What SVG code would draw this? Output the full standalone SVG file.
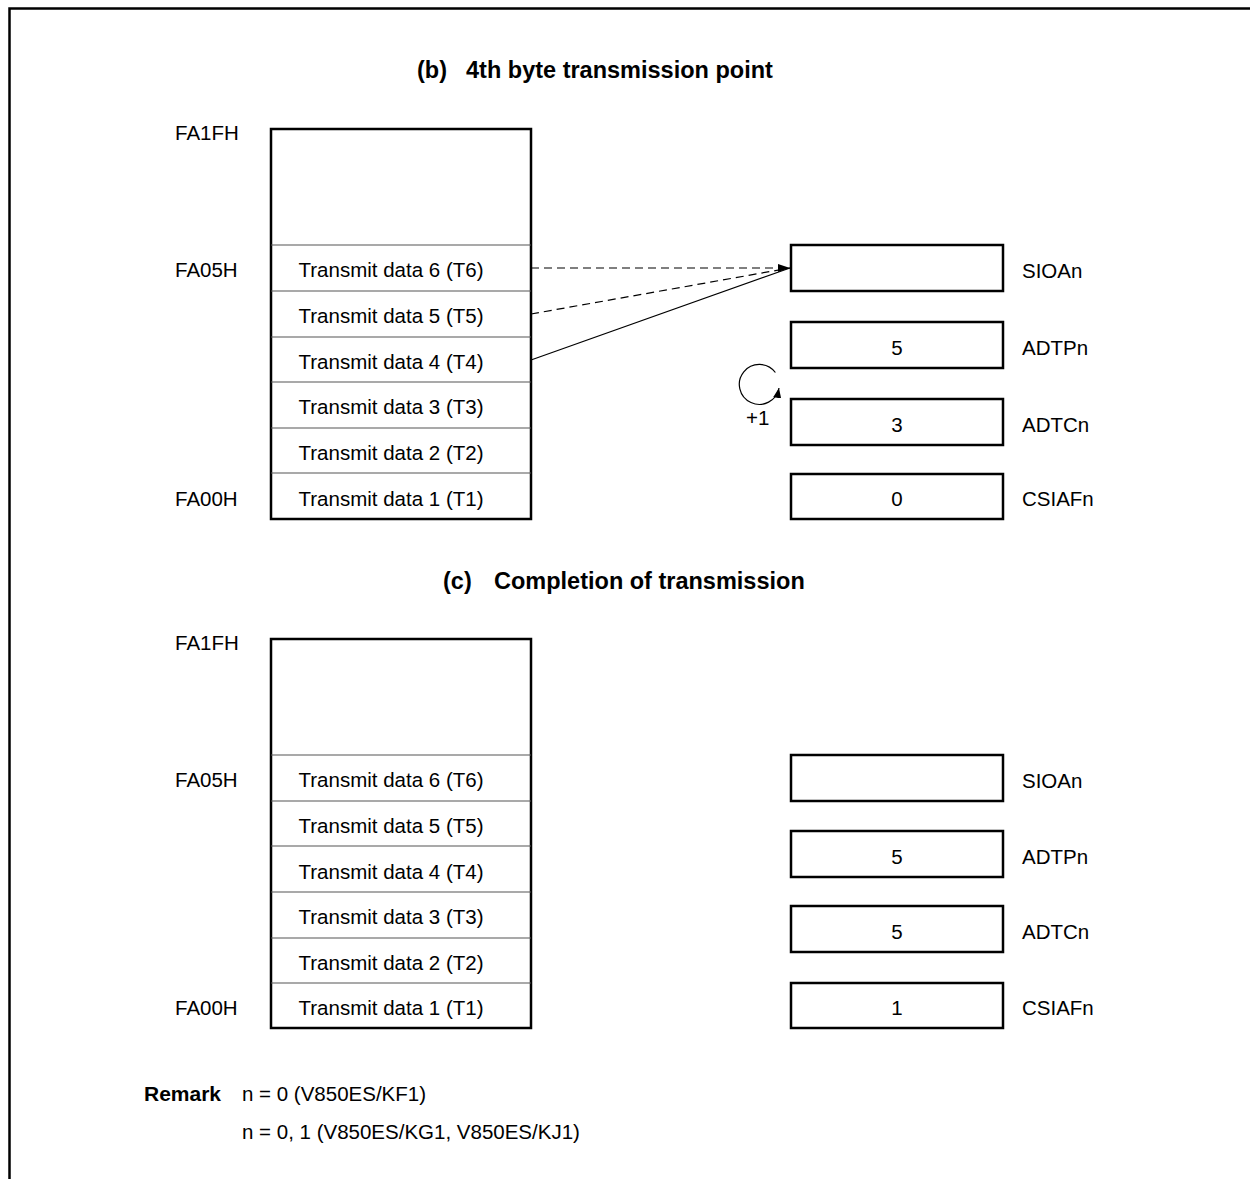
<svg xmlns="http://www.w3.org/2000/svg" width="1250" height="1179" viewBox="0 0 1250 1179">
<style>
text{font-family:"Liberation Sans",Arial,sans-serif;font-size:20.5px;fill:#000}
.t{font-weight:bold;font-size:23.5px}
.c{text-anchor:middle}
.box{fill:#fff;stroke:#000;stroke-width:2.5}
.div{stroke:#555;stroke-width:1.2}
.reg{fill:#fff;stroke:#000;stroke-width:2.5}
</style>
<defs>
<marker id="ah" markerWidth="12" markerHeight="8" refX="12" refY="4" orient="auto" markerUnits="userSpaceOnUse">
<path d="M0,0 L12,4 L0,8 Z" fill="#000"/>
</marker>
<marker id="ah2" markerWidth="10" markerHeight="8" refX="10" refY="4" orient="auto" markerUnits="userSpaceOnUse">
<path d="M0,0 L10,4 L0,8 Z" fill="#000"/>
</marker>
</defs>
<path d="M1250,8.5 H9.5 V1179" fill="none" stroke="#000" stroke-width="2.5"/>

<text class="t" x="417" y="78">(b)</text>
<text class="t" x="466" y="78">4th byte transmission point</text>
<g id="memB">
<rect class="box" x="271" y="129" width="260" height="390"/>
<line class="div" x1="271" y1="245" x2="531" y2="245"/>
<line class="div" x1="271" y1="291" x2="531" y2="291"/>
<line class="div" x1="271" y1="337" x2="531" y2="337"/>
<line class="div" x1="271" y1="382" x2="531" y2="382"/>
<line class="div" x1="271" y1="428" x2="531" y2="428"/>
<line class="div" x1="271" y1="473" x2="531" y2="473"/>
<text class="c" x="391" y="277">Transmit data 6 (T6)</text>
<text class="c" x="391" y="323">Transmit data 5 (T5)</text>
<text class="c" x="391" y="369">Transmit data 4 (T4)</text>
<text class="c" x="391" y="414">Transmit data 3 (T3)</text>
<text class="c" x="391" y="460">Transmit data 2 (T2)</text>
<text class="c" x="391" y="506">Transmit data 1 (T1)</text>
<text x="175" y="140">FA1FH</text>
<text x="175" y="277">FA05H</text>
<text x="175" y="506">FA00H</text>
</g>
<g id="regsB">
<rect class="reg" x="791" y="245" width="212" height="46"/>
<text x="1022" y="278">SIOAn</text>
<rect class="reg" x="791" y="322" width="212" height="46"/>
<text class="c" x="897" y="355">5</text>
<text x="1022" y="355">ADTPn</text>
<rect class="reg" x="791" y="399" width="212" height="46"/>
<text class="c" x="897" y="432">3</text>
<text x="1022" y="432">ADTCn</text>
<rect class="reg" x="791" y="474" width="212" height="45"/>
<text class="c" x="897" y="506">0</text>
<text x="1022" y="506">CSIAFn</text>
</g>
<g id="connectors" fill="none" stroke="#000" stroke-width="1.2">
<line x1="531" y1="268" x2="790" y2="268" stroke-dasharray="8,5" marker-end="url(#ah)"/>
<line x1="531" y1="314" x2="790" y2="268" stroke-dasharray="8,5"/>
<line x1="531" y1="360" x2="790" y2="268"/>
<path d="M775.4,372.5 A20,20 0 1 0 779,388" marker-end="url(#ah2)"/>
</g>
<text x="746" y="425">+1</text>

<text class="t" x="443" y="589">(c)</text>
<text class="t" x="494" y="589">Completion of transmission</text>
<g id="memC">
<rect class="box" x="271" y="639" width="260" height="389"/>
<line class="div" x1="271" y1="755" x2="531" y2="755"/>
<line class="div" x1="271" y1="801" x2="531" y2="801"/>
<line class="div" x1="271" y1="846" x2="531" y2="846"/>
<line class="div" x1="271" y1="892" x2="531" y2="892"/>
<line class="div" x1="271" y1="938" x2="531" y2="938"/>
<line class="div" x1="271" y1="983" x2="531" y2="983"/>
<text class="c" x="391" y="787">Transmit data 6 (T6)</text>
<text class="c" x="391" y="833">Transmit data 5 (T5)</text>
<text class="c" x="391" y="879">Transmit data 4 (T4)</text>
<text class="c" x="391" y="924">Transmit data 3 (T3)</text>
<text class="c" x="391" y="970">Transmit data 2 (T2)</text>
<text class="c" x="391" y="1015">Transmit data 1 (T1)</text>
<text x="175" y="650">FA1FH</text>
<text x="175" y="787">FA05H</text>
<text x="175" y="1015">FA00H</text>
</g>
<g id="regsC">
<rect class="reg" x="791" y="755" width="212" height="46"/>
<text x="1022" y="788">SIOAn</text>
<rect class="reg" x="791" y="831" width="212" height="46"/>
<text class="c" x="897" y="864">5</text>
<text x="1022" y="864">ADTPn</text>
<rect class="reg" x="791" y="906" width="212" height="46"/>
<text class="c" x="897" y="939">5</text>
<text x="1022" y="939">ADTCn</text>
<rect class="reg" x="791" y="983" width="212" height="45"/>
<text class="c" x="897" y="1015">1</text>
<text x="1022" y="1015">CSIAFn</text>
</g>

<text x="144" y="1101" style="font-weight:bold;font-size:21px">Remark</text>
<text x="242" y="1101">n = 0 (V850ES/KF1)</text>
<text x="242" y="1139">n = 0, 1 (V850ES/KG1, V850ES/KJ1)</text>
</svg>
